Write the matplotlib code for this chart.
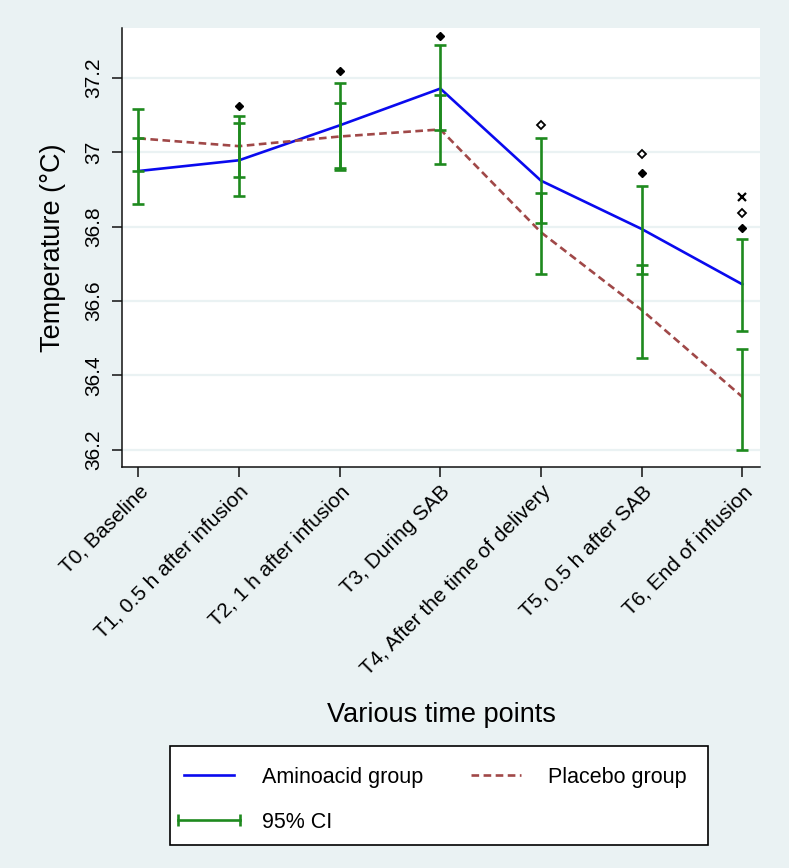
import matplotlib
matplotlib.use('Agg')
import matplotlib.pyplot as plt
from matplotlib.lines import Line2D
from matplotlib.patches import Rectangle
from matplotlib.legend_handler import HandlerLine2D

time_labels = ['T0, Baseline', 'T1, 0.5 h after infusion', 'T2, 1 h after infusion',
               'T3, During SAB', 'T4, After the time of delivery',
               'T5, 0.5 h after SAB', 'T6, End of infusion']
amino_mean = [36.950, 36.979, 37.073, 37.172, 36.924, 36.794, 36.645]
placebo_mean = [37.038, 37.017, 37.043, 37.062, 36.785, 36.576, 36.342]
amino_lo = [36.861, 36.883, 36.953, 37.060, 36.809, 36.672, 36.520]
amino_hi = [37.038, 37.080, 37.187, 37.289, 37.038, 36.910, 36.766]
placebo_lo = [36.950, 36.934, 36.959, 36.970, 36.672, 36.448, 36.199]
placebo_hi = [37.116, 37.098, 37.132, 37.156, 36.891, 36.698, 36.471]

# outlying points drawn above the bars
filled_x = [1, 2, 3, 5, 6]
filled_y = [37.125, 37.220, 37.314, 36.945, 36.797]
hollow_x = [4, 5, 6]
hollow_y = [37.073, 36.995, 36.838]
cross_x = [6]
cross_y = [36.880]

yticks = [36.2, 36.4, 36.6, 36.8, 37.0, 37.2]
ytick_labels = ['36.2', '36.4', '36.6', '36.8', '37', '37.2']

plt.rcParams['font.family'] = ['Liberation Sans', 'DejaVu Sans']
plt.rcParams['lines.scale_dashes'] = False

bg = '#eaf2f3'
green = '#1e8a1e'
blue = '#0a0aee'
red = '#a04848'
W, H = 789, 868

fig = plt.figure(figsize=(7.89, 8.68), dpi=100, facecolor=bg)
ax = fig.add_axes([0.1542, 0.4623, 0.809, 0.5054])
ax.set_facecolor('white')

x = list(range(len(time_labels)))
ax.plot(x, amino_mean, color=blue, lw=1.9, zorder=3)
ax.plot(x, placebo_mean, color=red, lw=1.9, dashes=(5.5, 3.2), zorder=3)

for lo, hi in [(amino_lo, amino_hi), (placebo_lo, placebo_hi)]:
    mid = [(a + b) / 2 for a, b in zip(lo, hi)]
    err = [[m - a for m, a in zip(mid, lo)], [b - m for m, b in zip(mid, hi)]]
    ax.errorbar(x, mid, yerr=err, fmt='none', ecolor=green, elinewidth=1.9,
                capsize=4.4, capthick=1.9, zorder=4)

ax.plot(filled_x, filled_y, 'D', color='black', ms=3.8, zorder=5)
ax.plot(hollow_x, hollow_y, 'D', mfc='white', mec='black', mew=1.3, ms=3.6, zorder=5)
ax.plot(cross_x, cross_y, 'x', color='black', ms=6, mew=1.6, zorder=5)

ax.set_xlim(-0.166, 6.175)
ax.set_ylim(36.154, 37.335)
ax.set_yticks(yticks)
ax.set_yticklabels(ytick_labels, rotation=90, va='center')
ax.set_xticks(x)
ax.set_xticklabels(time_labels, rotation=45, ha='right', va='top',
                   rotation_mode='anchor')
ax.tick_params(axis='both', direction='out', length=7, width=1.1,
               color='#111111', labelsize=15, pad=4)
ax.tick_params(axis='y', pad=6)
ax.grid(axis='y', color=bg, lw=1.6)
ax.set_axisbelow(True)
for side in ['top', 'right']:
    ax.spines[side].set_visible(False)
for side in ['left', 'bottom']:
    ax.spines[side].set_color('#111111')
    ax.spines[side].set_linewidth(1.1)

fig.text(53 / W, 1 - 248 / H, 'Temperature (°C)', rotation=90,
         ha='center', va='center', fontsize=19.5)
fig.text(441 / W, 1 - 715 / H, 'Various time points',
         ha='center', va='center', fontsize=19.5)

# legend box drawn by hand, entries placed inside it
fig.patches.append(Rectangle((170 / W, 1 - 845 / H), 538 / W, 99 / H,
                             transform=fig.transFigure, facecolor='white',
                             edgecolor='black', lw=1.2, zorder=1))
handles = [Line2D([], [], color=blue, lw=1.9),
           Line2D([], [], color=green, lw=1.9, marker='|', ms=9, mew=1.9),
           Line2D([], [], color=red, lw=1.9, dashes=(5.5, 3.2))]
labels = ['Aminoacid group', '95% CI', 'Placebo group']
leg = fig.legend(handles, labels, ncol=2, loc='upper left',
                 bbox_to_anchor=(178 / W, 1 - 767 / H), borderaxespad=0,
                 fontsize=15.5, frameon=False,
                 handlelength=2.9, handletextpad=1.0, columnspacing=1.92,
                 labelspacing=1.1, borderpad=0, numpoints=2,
                 handler_map={handles[1]: HandlerLine2D(marker_pad=0, numpoints=2)})
leg.set_zorder(2)

fig.savefig('out.png', dpi=100, facecolor=bg)
